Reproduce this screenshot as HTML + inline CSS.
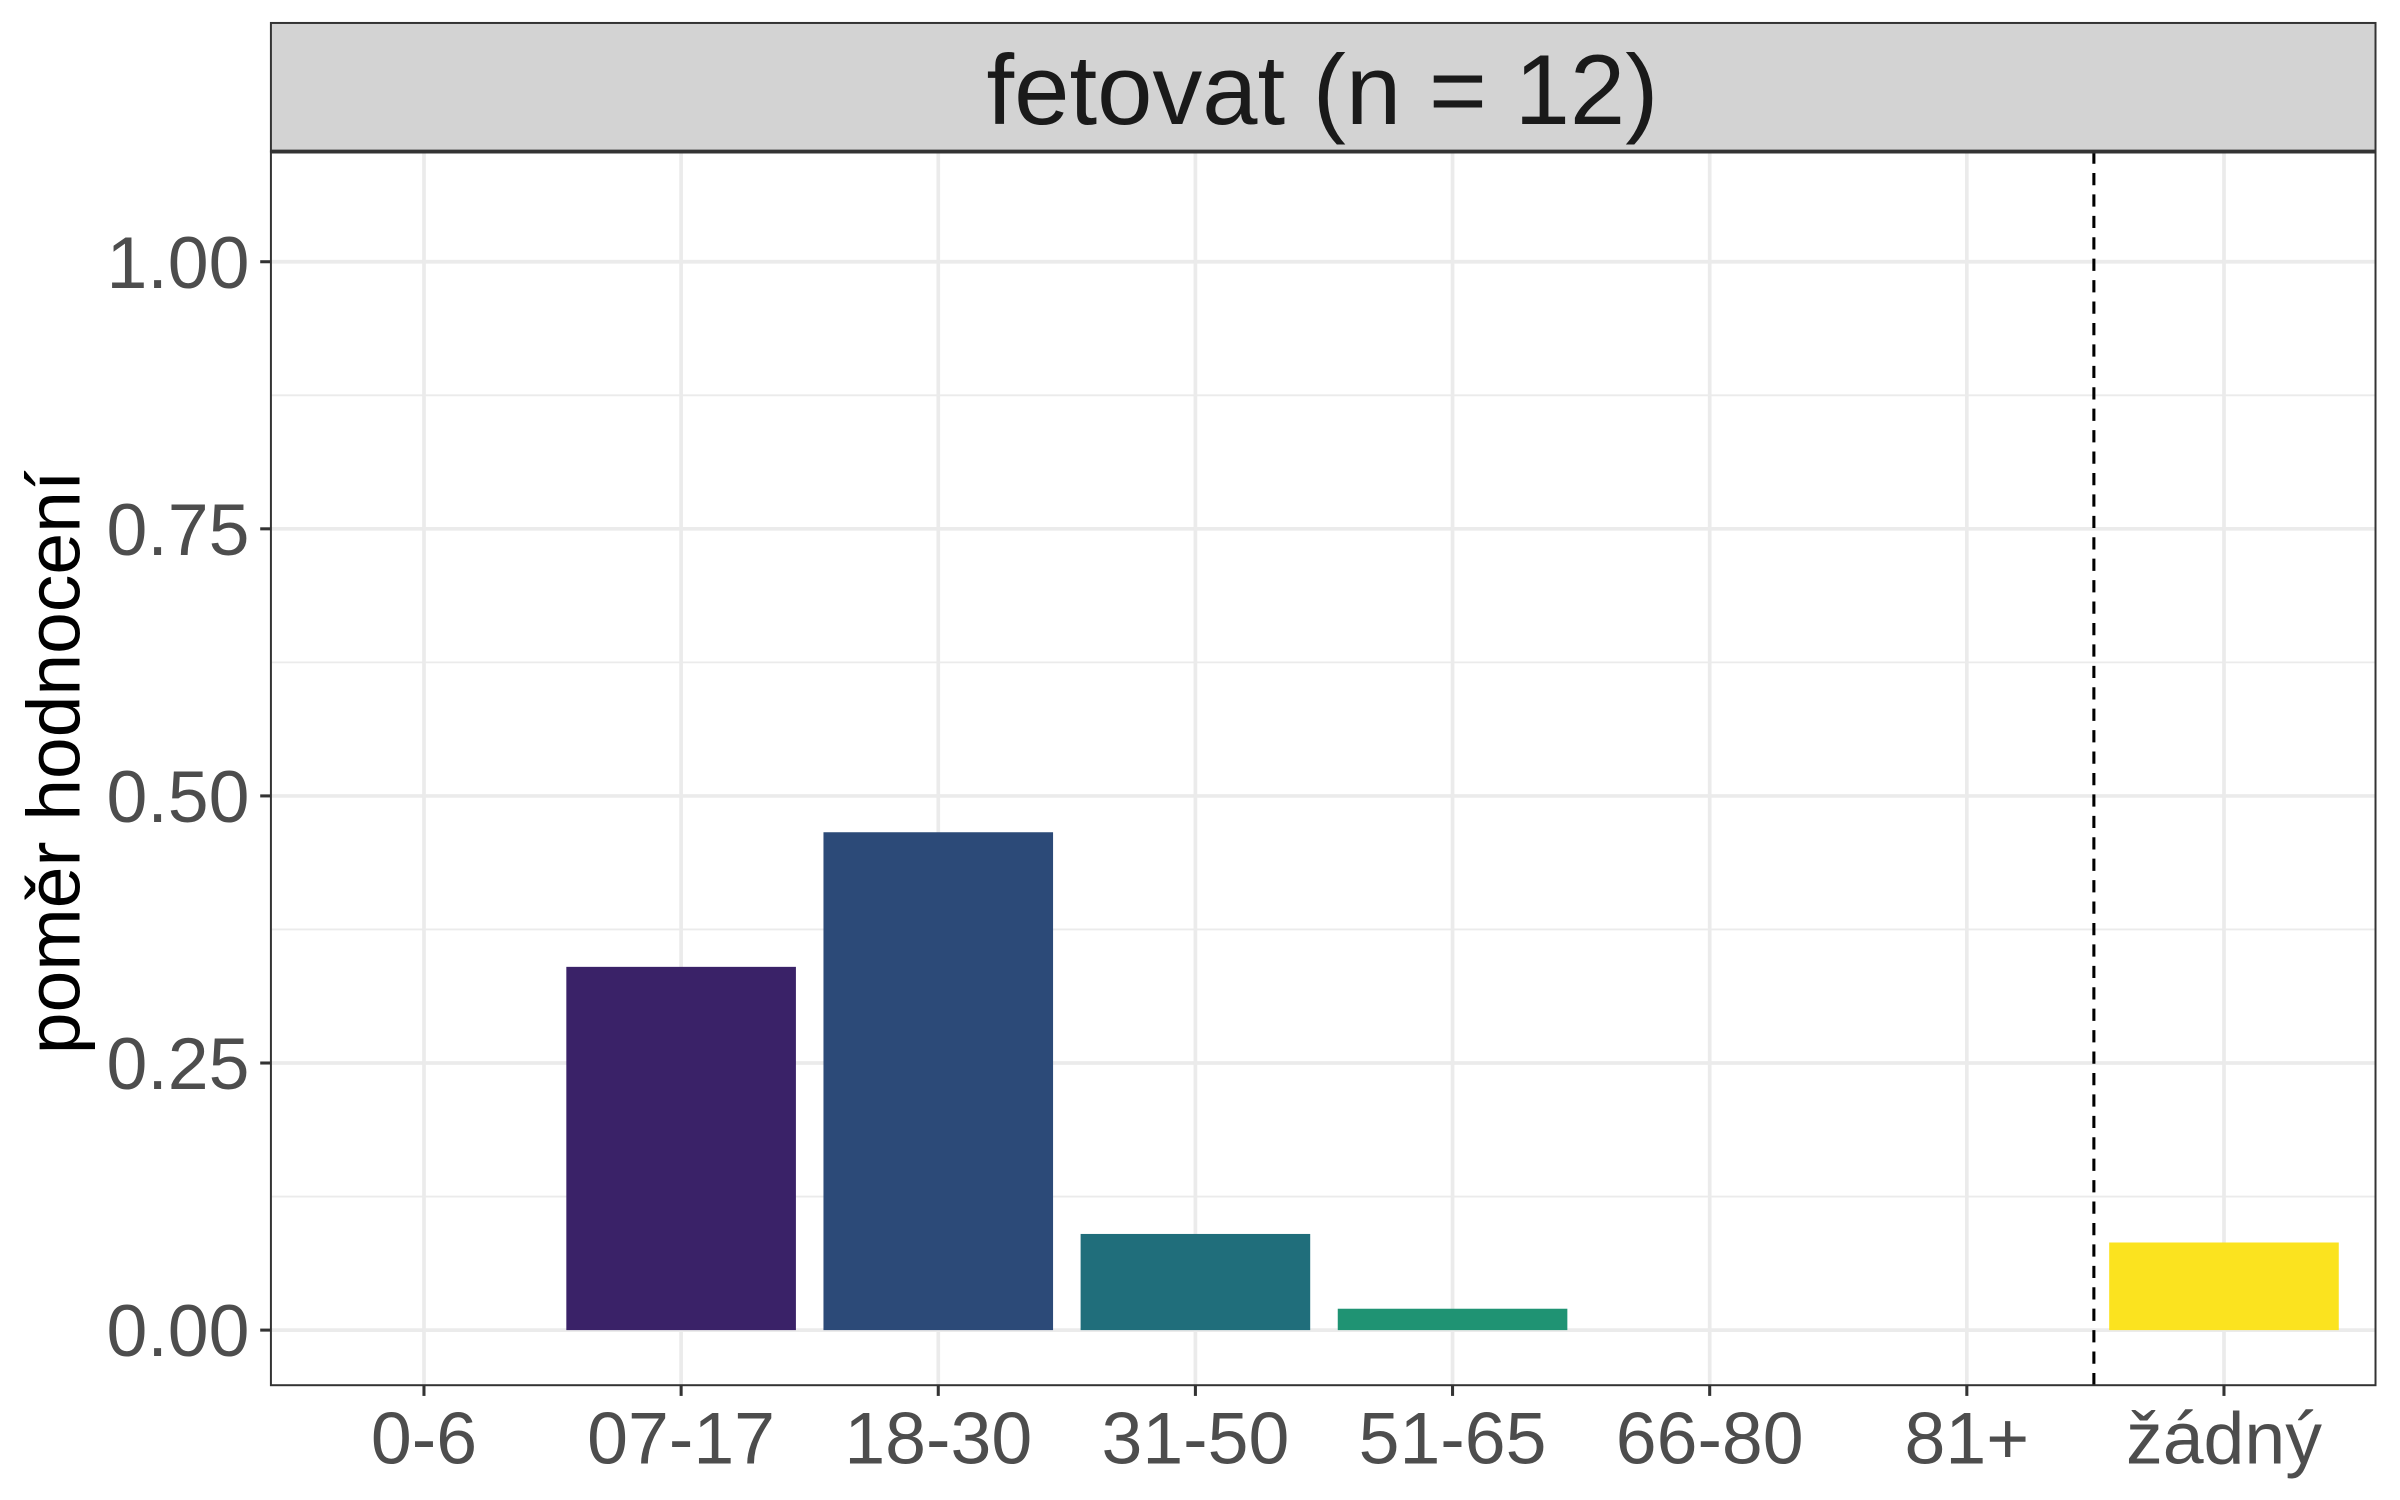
<!DOCTYPE html>
<html><head><meta charset="utf-8"><style>html,body{margin:0;padding:0;background:#fff}svg{display:block}</style></head>
<body>
<svg id="chart" width="2400" height="1500" viewBox="0 0 1568 980" xmlns="http://www.w3.org/2000/svg" font-family="Liberation Sans, DejaVu Sans, sans-serif">
<rect x="0" y="0" width="1568" height="980" fill="#fff"/>
<g id="grid"></g>
<g id="bars"></g>
<line x1="1368" y1="99" x2="1368" y2="905" stroke="#000" stroke-width="2" stroke-dasharray="8,6"/>
<rect x="177" y="99" width="1375" height="806" fill="none" stroke="#333" stroke-width="1.3"/>
<rect x="177" y="15" width="1375" height="84" fill="#d3d3d3" stroke="#333" stroke-width="1.3"/>
<line x1="177" y1="99" x2="1552" y2="99" stroke="#333" stroke-width="2.5"/>
<text x="864" y="81" font-size="65" text-anchor="middle" fill="#1a1a1a">fetovat (n = 12)</text>
<text transform="translate(52,498) rotate(-90)" font-size="49" text-anchor="middle" fill="#000">poměr hodnocení</text>
<g id="axes"></g>
</svg>
<script>
const categories = ["0-6","07-17","18-30","31-50","51-65","66-80","81+","žádný"];
const values = [0, 0.34, 0.466, 0.09, 0.02, 0, 0, 0.082];
const colors = ["#440154","#3a2268","#2c4a78","#206e7b","#1f9373","#58c35b","#a8db34","#fbe31f"];
const yTicks = [0, 0.25, 0.5, 0.75, 1.0];
const yTickLabels = ["0.00","0.25","0.50","0.75","1.00"];
const NS = "http://www.w3.org/2000/svg";
function xPos(i){ return 277 + i * 168; }
function yPos(v){ return 869 - v * 698; }
function mk(tag, attrs, parent){ const e=document.createElementNS(NS,tag); for(const k in attrs) e.setAttribute(k,attrs[k]); parent.appendChild(e); return e; }
const grid=document.getElementById('grid'), bars=document.getElementById('bars'), axes=document.getElementById('axes');
for(let i=0;i<yTicks.length-1;i++){
  const v=(yTicks[i]+yTicks[i+1])/2;
  const l=mk('line',{x1:177,x2:1552,y1:yPos(v),y2:yPos(v),stroke:'#ebebeb','stroke-width':1.2},grid);
  
  
}
yTicks.forEach((v,i)=>{
  const l=mk('line',{x1:177,x2:1552,y1:yPos(v),y2:yPos(v),stroke:'#ebebeb','stroke-width':2.4},grid);
  
  
  const t=mk('line',{x1:170,x2:177,y1:yPos(v),y2:yPos(v),stroke:'#333','stroke-width':2},axes);
  
  
  const tx=mk('text',{x:163,y:yPos(v)+17,'font-size':48,'text-anchor':'end',fill:'#4d4d4d'},axes);
  tx.textContent=yTickLabels[i];
  
  
});
categories.forEach((c,i)=>{
  const l=mk('line',{x1:xPos(i),x2:xPos(i),y1:99,y2:905,stroke:'#ebebeb','stroke-width':2.4},grid);
  
  
  if(values[i]>0){
    const r=mk('rect',{x:xPos(i)-75,y:yPos(values[i]),width:150,height:yPos(0)-yPos(values[i]),fill:colors[i]},bars);
    
    
  }
  const t=mk('line',{x1:xPos(i),x2:xPos(i),y1:905,y2:912,stroke:'#333','stroke-width':2},axes);
  
  
  const tx=mk('text',{x:xPos(i),y:956,'font-size':48,'text-anchor':'middle',fill:'#4d4d4d'},axes);
  tx.textContent=c;
  
  
});
</script>
</body></html>
